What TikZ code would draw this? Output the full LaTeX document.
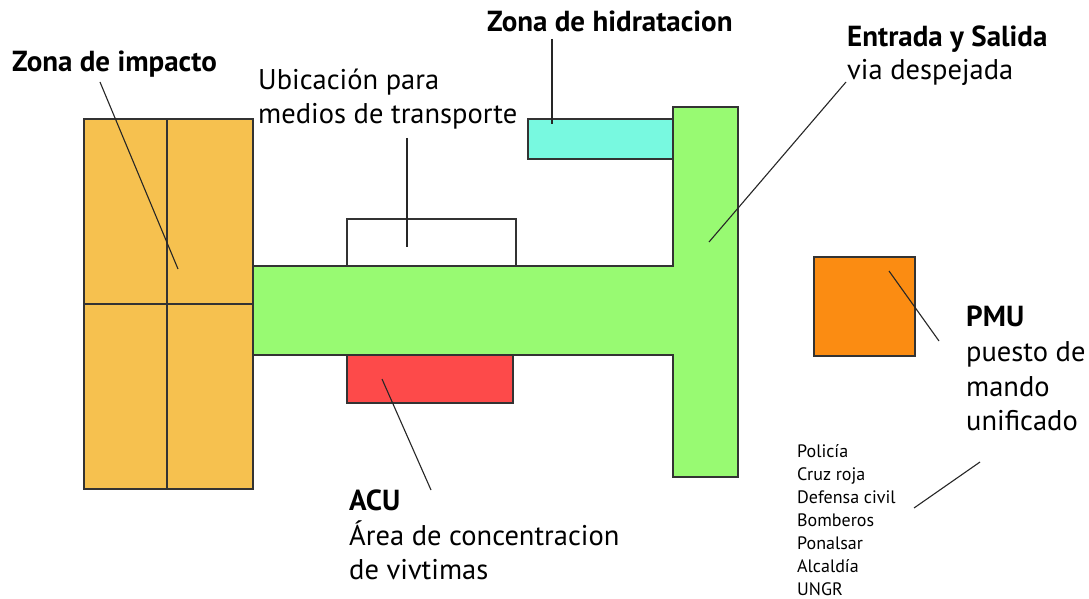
\documentclass[tikz,border=0pt]{standalone}
\usepackage{fontspec}
\setmainfont{PT Sans}
\definecolor{impacto}{HTML}{F6C14F}
\definecolor{via}{HTML}{98FA72}
\definecolor{hidra}{HTML}{78F9E0}
\definecolor{acu}{HTML}{FD4A4A}
\definecolor{pmu}{HTML}{FB8C12}
\definecolor{edge}{HTML}{333333}
\begin{document}
\begin{tikzpicture}[x=1pt,y=-1pt,
  zone/.style={draw=edge,line width=1.2pt},
  leader/.style={draw=black!85,line width=1.1pt},
  lbl/.style={anchor=base west,inner sep=0pt,font=\fontsize{28.5}{32}\selectfont},
  blbl/.style={lbl,font=\fontsize{29}{32}\selectfont\bfseries},
  small/.style={anchor=base west,inner sep=0pt,font=\fontsize{18}{20}\selectfont}]
\useasboundingbox (0,0) rectangle (1089,599);
% shapes
\fill[white] (0,0) rectangle (1089,599);
\draw[zone,fill=hidra] (528,119) rectangle (673,159);
\draw[zone,fill=white] (347,219) rectangle (516,266);
\draw[zone,fill=acu] (347,355) rectangle (513,403);
\draw[zone,fill=via] (253,266) -- (673,266) -- (673,107) -- (738,107) -- (738,477) -- (673,477) -- (673,355) -- (253,355) -- cycle;
\draw[zone,fill=impacto] (84,119) rectangle (253,489);
\draw[zone] (167,119) -- (167,489);
\draw[zone] (84,304) -- (253,304);
\draw[zone,fill=pmu] (814,257) rectangle (915,356);
% labels
\node[blbl] (zi) at (12,72) {Zona de impacto};
\node[lbl] (ub1) at (258,90) {Ubicación para};
\node[lbl] (ub2) at (258,124) {medios de transporte};
\node[blbl] (zh) at (487,32) {Zona de hidratacion};
\node[blbl] (es1) at (847,47) {Entrada y Salida};
\node[lbl] (es2) at (847,80) {via despejada};
\node[blbl] (pm1) at (966,326) {PMU};
\node[lbl] (pm2) at (966,361) {puesto de};
\node[lbl] (pm3) at (966,396) {mando};
\node[lbl] (pm4) at (966,430) {unificado};
\node[blbl] (ac1) at (349,510) {ACU};
\node[lbl] (ac2) at (349,545) {Área de concentracion};
\node[lbl] (ac3) at (349,579) {de vivtimas};
\node[small] (l1) at (797,457) {Policía};
\node[small] (l2) at (797,480) {Cruz roja};
\node[small] (l3) at (797,503) {Defensa civil};
\node[small] (l4) at (797,526) {Bomberos};
\node[small] (l5) at (797,549) {Ponalsar};
\node[small] (l6) at (797,572) {Alcaldía};
\node[small] (l7) at (797,595) {UNGR};
% leader end points
\coordinate (ziA) at (100,82);   \coordinate (ziB) at (178,269);
\coordinate (ubA) at (407,138);  \coordinate (ubB) at (407,247);
\coordinate (zhA) at (552,39);   \coordinate (zhB) at (552,124);
\coordinate (esA) at (846,82);   \coordinate (esB) at (709,242);
\coordinate (pmA) at (939,341);  \coordinate (pmB) at (889,271);
\coordinate (acA) at (431,490);  \coordinate (acB) at (382,379);
\coordinate (liA) at (914,508);  \coordinate (liB) at (980,462);
\draw[leader] (ziA) -- (ziB);
\draw[leader] (ubA) -- (ubB);
\draw[leader] (zhA) -- (zhB);
\draw[leader] (esA) -- (esB);
\draw[leader] (pmA) -- (pmB);
\draw[leader] (acA) -- (acB);
\draw[leader] (liA) -- (liB);
\end{tikzpicture}
\end{document}
